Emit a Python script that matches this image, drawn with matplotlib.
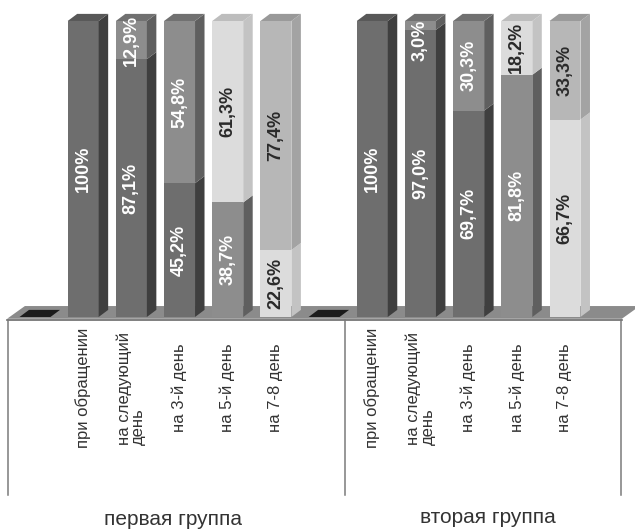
import numpy as np
import matplotlib
matplotlib.use("Agg")
import matplotlib.pyplot as plt
from matplotlib.patches import Polygon

plt.rcParams['font.family'] = ['Liberation Sans', 'DejaVu Sans']

# data
groups = ['первая группа', 'вторая группа']
categories = ['', 'при обращении', 'на следующий\nдень', 'на 3-й день',
              'на 5-й день', 'на 7-8 день']
lower = [0, 100, 87.1, 45.2, 38.7, 22.6,
         0, 100, 97.0, 69.7, 81.8, 66.7]
upper = [0, 0, 12.9, 54.8, 61.3, 77.4,
         0, 0, 3.0, 30.3, 18.2, 33.3]
lower_shade = ['black', 'dark', 'dark', 'dark', 'mid', 'light',
               'black', 'dark', 'dark', 'dark', 'mid', 'light']
upper_shade = [None, None, 'mid', 'mid', 'light', 'silver',
               None, None, 'mid', 'mid', 'light', 'silver']

# front, side, top, text colour
shades = {
    'black': ('#1c1c1c', '#1c1c1c', '#1c1c1c', 'white'),
    'dark': ('#6e6e6e', '#3f3f3f', '#585858', 'white'),
    'mid': ('#8d8d8d', '#5f5f5f', '#707070', 'white'),
    'light': ('#dcdcdc', '#c3c3c3', '#bdbdbd', '#2a2a2a'),
    'silver': ('#b7b7b7', '#a3a3a3', '#999999', '#2a2a2a'),
}

x = np.arange(len(lower))
width = 0.643
dx, dy = 0.197, 2.4   # depth of the fake 3d


def fmt(v):
    if v == 100:
        return '100%'
    return ('%.1f' % v).replace('.', ',') + '%'


fig = plt.figure(figsize=(6.35, 5.3), dpi=100)
ax = fig.add_axes([0, 0, 1, 1])
ax.set_xlim(-0.7264, 12.453)
ax.set_ylim(-71.96, 107.09)
ax.axis('off')

# floor
floor = Polygon([(-0.58, -0.6), (12.18, -0.6), (12.55, 3.7), (-0.21, 3.7)],
                closed=True, facecolor='#8b8b8b', edgecolor='none', zorder=1)
ax.add_patch(floor)
ax.plot([-0.58, 12.18], [-0.9, -0.9], color='#6a6a6a', lw=1.2, zorder=1)

# separators of the category axis
for sx in [-0.56, 6.43, 12.17]:
    ax.plot([sx, sx], [-1.0, -60.1], color='#7a7a7a', lw=1.1, zorder=1)


def draw_segment(xi, bottom, height, shade, show_top):
    front, side, top, tcol = shades[shade]
    ax.bar(xi, height, width=width, bottom=bottom, color=front,
           edgecolor='none', zorder=3)
    r = xi + width / 2
    l = xi - width / 2
    t = bottom + height
    ax.add_patch(Polygon([(r, bottom), (r + dx, bottom + dy), (r + dx, t + dy), (r, t)],
                         closed=True, facecolor=side, edgecolor='none', zorder=3))
    if show_top:
        ax.add_patch(Polygon([(l, t), (r, t), (r + dx, t + dy), (l + dx, t + dy)],
                             closed=True, facecolor=top, edgecolor='none', zorder=3))
    if height > 0:
        ty = min(bottom + height / 2, t - 6.4)
        ax.text(xi, ty, fmt(height), rotation=90, ha='center',
                va='center', rotation_mode='anchor', fontsize=13,
                fontweight='bold', color=tcol, zorder=4)


for i in range(len(x)):
    if upper_shade[i] is None:
        draw_segment(x[i], 0, lower[i], lower_shade[i], True)
    else:
        draw_segment(x[i], 0, lower[i], lower_shade[i], False)
        draw_segment(x[i], lower[i], upper[i], upper_shade[i], True)

# category labels
labels = categories * len(groups)
for i in range(len(x)):
    if labels[i]:
        ax.text(x[i], -24, labels[i], rotation=90, ha='center', va='center',
                rotation_mode='anchor', multialignment='left', fontsize=12,
                color='#333333', linespacing=0.95)

ax.text(2.86, -68.3, groups[0], ha='center', va='center', fontsize=15,
        color='#333333')
ax.text(9.40, -67.6, groups[1], ha='center', va='center', fontsize=15,
        color='#333333')

fig.savefig('out.png', dpi=100)
